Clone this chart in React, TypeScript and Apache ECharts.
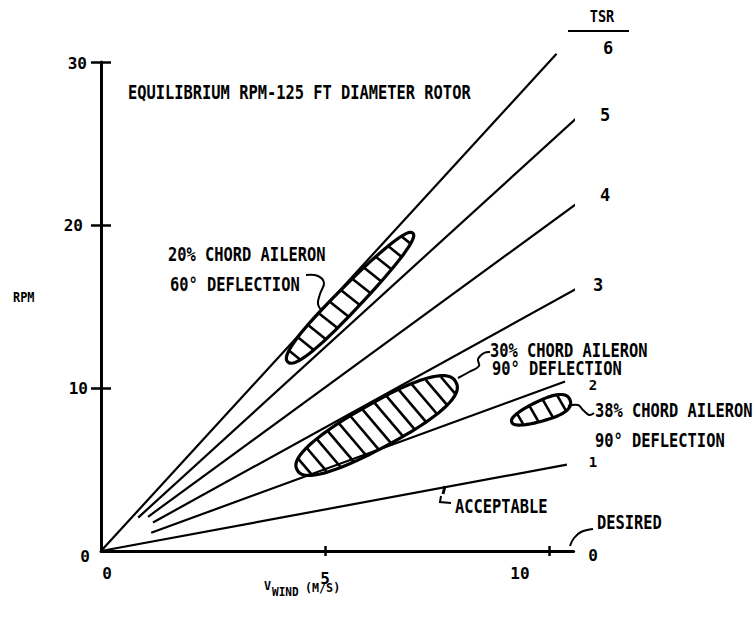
import React, { useEffect, useRef } from "react";
import * as echarts from "echarts";

// TSR lines (tip speed ratio), wind speed (m/s) vs rpm, start and end points
const tsrLabels = ["1", "2", "3", "4", "5", "6"];
const windStart = [0, 1.12, 1.16, 1.05, 0.83, 0];
const rpmStart = [0, 1.12, 1.75, 2.1, 2.05, 0];
const windEnd = [10.4, 10.36, 10.62, 11.16, 10.71, 10.17];
const rpmEnd = [5.3, 10.4, 16.1, 22.4, 26.8, 30.5];

// axis ticks
const xTickValues = [5, 10];
const xLabelValues = [0, 5, 10];
const yTickValues = [10, 20, 30];
const yLabelValues = [0, 10, 20, 30];

// equilibrium regions (aileron configurations): extreme points along the band
const regionNames = ["20% CHORD AILERON", "30% CHORD AILERON", "38% CHORD AILERON"];
const regionDeflection = ["60° DEFLECTION", "90° DEFLECTION", "90° DEFLECTION"];
const regionWindLow = [4.17, 4.38, 9.17];
const regionRpmLow = [11.6, 4.97, 7.91];
const regionWindHigh = [6.96, 7.92, 10.47];
const regionRpmHigh = [19.5, 10.37, 9.26];

// drawing styles of the regions
const regionHalfWidthPx = [12, 22, 10];
const regionHatchCount = [11, 13, 4];
const regionHatchSlant = [0.1, 0.2, 0.16];
const regionEgg = [-0.12, 0.05, 0.25];

const FONT = "'DejaVu Sans Mono', 'Liberation Mono', monospace";

function txt(text: string, x: number, y: number, size = 20, scaleX = 0.77, align = "left") {
  return {
    type: "text",
    x,
    y,
    scaleX,
    silent: true,
    style: {
      text,
      fontFamily: FONT,
      fontWeight: "bold",
      fontSize: size,
      fill: "#000",
      textAlign: align,
      textVerticalAlign: "middle",
      verticalAlign: "middle",
    },
  };
}

function pl(points: number[][], width = 2, smooth = 0.4) {
  return {
    type: "polyline",
    silent: true,
    shape: { points, smooth },
    style: { stroke: "#000", lineWidth: width, fill: "none" },
  };
}

export default function App() {
  const ref = useRef<HTMLDivElement>(null);

  useEffect(() => {
    if (!ref.current) return;
    const chart = echarts.init(ref.current, null, { renderer: "svg" });

    const lineSeries = tsrLabels.map((name, i) => ({
      type: "line",
      name: "TSR " + name,
      data: [
        [windStart[i], rpmStart[i]],
        [windEnd[i], rpmEnd[i]],
      ],
      symbol: "none",
      clip: false,
      lineStyle: { color: "#000", width: 2.2 },
      silent: true,
    }));

    const regionData = regionNames.map((n, i) => [
      regionWindLow[i],
      regionRpmLow[i],
      regionWindHigh[i],
      regionRpmHigh[i],
    ]);

    const renderRegion = (params: any, api: any) => {
      const i = params.dataIndex;
      const p1 = api.coord([api.value(0), api.value(1)]);
      const p2 = api.coord([api.value(2), api.value(3)]);
      const cx = (p1[0] + p2[0]) / 2;
      const cy = (p1[1] + p2[1]) / 2;
      const dx = p2[0] - p1[0];
      const dy = p2[1] - p1[1];
      const len = Math.hypot(dx, dy);
      const a = len / 2;
      const ux = dx / len;
      const uy = dy / len;
      const vx = -uy;
      const vy = ux;
      const b = regionHalfWidthPx[i];
      const n = 2.4;
      const egg = regionEgg[i];
      const toPx = (u: number, v: number) => [cx + u * ux + v * vx, cy + u * uy + v * vy];
      const pts: number[][] = [];
      const K = 90;
      for (let k = 0; k < K; k++) {
        const t = (2 * Math.PI * k) / K;
        const c = Math.cos(t);
        const s = Math.sin(t);
        const u = a * Math.sign(c) * Math.pow(Math.abs(c), 2 / n);
        const v = b * Math.sign(s) * Math.pow(Math.abs(s), 2 / n) * (1 + egg * (u / a));
        pts.push(toPx(u, v));
      }
      const children: any[] = [
        {
          type: "polygon",
          shape: { points: pts },
          style: { fill: "none", stroke: "#000", lineWidth: 3.2 },
        },
      ];
      const N = regionHatchCount[i];
      const sl = regionHatchSlant[i];
      for (let j = 0; j < N; j++) {
        const u = -a + (2 * a * (j + 0.6)) / (N + 0.2);
        const r = Math.abs(u / a);
        if (r >= 1) continue;
        const h = b * Math.pow(1 - Math.pow(r, n), 1 / n) * (1 + egg * (u / a)) * 0.97;
        const q1 = toPx(u - sl * h, -h);
        const q2 = toPx(u + sl * h, h);
        children.push({
          type: "line",
          shape: { x1: q1[0], y1: q1[1], x2: q2[0], y2: q2[1] },
          style: { stroke: "#000", lineWidth: 2.6 },
        });
      }
      return { type: "group", children };
    };

    const labelFont = { fontFamily: FONT, fontWeight: "bold", fontSize: 16, color: "#000" };

    const option: any = {
      animation: false,
      backgroundColor: "#fff",
      grid: { left: 101, right: 180.4, top: 62, bottom: 81, outerBoundsMode: "none", containLabel: false },
      xAxis: [
        {
          type: "value",
          min: 0,
          max: 10.55,
          interval: 5,
          position: "bottom",
          axisLine: { show: true, onZero: false, lineStyle: { color: "#000", width: 3 } },
          axisTick: { show: true, customValues: xTickValues, length: 5, lineStyle: { color: "#000", width: 2.5 } },
          axisLabel: {
            customValues: xLabelValues,
            margin: 14,
            formatter: (v: number) => `{x${v}|${v}}`,
            rich: {
              x0: { ...labelFont, padding: [0, 0, 0, 12] },
              x5: { ...labelFont, padding: [5, 0, 0, 0] },
              x10: { ...labelFont, padding: [0, 58, 0, 0] },
            },
          },
          splitLine: { show: false },
        },
        {
          type: "value",
          min: 0,
          max: 10.55,
          interval: 5,
          position: "bottom",
          axisLine: { show: false },
          axisTick: { show: true, inside: true, customValues: xTickValues, length: 5, lineStyle: { color: "#000", width: 2.5 } },
          axisLabel: { show: false },
          splitLine: { show: false },
        },
      ],
      yAxis: [
        {
          type: "value",
          min: 0,
          max: 30,
          interval: 10,
          position: "left",
          axisLine: { show: true, onZero: false, lineStyle: { color: "#000", width: 3 } },
          axisTick: { show: true, customValues: yTickValues, length: 10, lineStyle: { color: "#000", width: 2.5 } },
          axisLabel: {
            customValues: yLabelValues,
            margin: 11,
            formatter: (v: number) => `{y${v}|${v}}`,
            rich: {
              y0: { ...labelFont, padding: [10, 0, 0, 0] },
              y10: { ...labelFont, padding: [0, 2, 0, 0] },
              y20: { ...labelFont, padding: [0, 7, 0, 0] },
              y30: { ...labelFont, padding: [2, 3, 0, 0] },
            },
          },
          splitLine: { show: false },
        },
        {
          type: "value",
          min: 0,
          max: 30,
          interval: 10,
          position: "left",
          axisLine: { show: false },
          axisTick: { show: true, inside: true, customValues: yTickValues, length: 10, lineStyle: { color: "#000", width: 2.5 } },
          axisLabel: { show: false },
          splitLine: { show: false },
        },
      ],
      series: [
        ...lineSeries,
        {
          type: "custom",
          name: "regions",
          coordinateSystem: "cartesian2d",
          encode: { x: [0, 2], y: [1, 3] },
          data: regionData,
          renderItem: renderRegion,
          silent: true,
          clip: false,
        },
      ],
      graphic: [
        txt("EQUILIBRIUM RPM-125 FT DIAMETER ROTOR", 128, 92),
        txt("TSR", 602, 16, 16, 0.85, "center"),
        { type: "line", silent: true, shape: { x1: 568, y1: 31, x2: 629, y2: 31 }, style: { stroke: "#000", lineWidth: 2 } },
        txt(tsrLabels[5], 608, 48, 17, 1, "center"),
        txt(tsrLabels[4], 605, 115, 17, 1, "center"),
        txt(tsrLabels[3], 605, 195, 17, 1, "center"),
        txt(tsrLabels[2], 598, 285, 17, 1, "center"),
        txt(tsrLabels[1], 593, 385, 14, 1, "center"),
        txt(tsrLabels[0], 593, 462, 14, 1, "center"),
        txt("0", 593, 555, 16, 1, "center"),
        txt(regionNames[0], 168, 254),
        txt(regionDeflection[0], 170, 284),
        txt(regionNames[1], 490, 350),
        txt(regionDeflection[1], 492, 368),
        txt(regionNames[2], 595, 410),
        txt(regionDeflection[2], 595, 440),
        txt("ACCEPTABLE", 455, 506),
        txt("DESIRED", 597, 522),
        txt("RPM", 13, 297, 14, 0.85),
        txt("V", 264, 586, 13, 0.9),
        txt("WIND", 272, 592, 13, 0.85),
        txt("(M/S)", 305, 588, 13, 0.9),
        pl([[306, 275], [318, 276], [324, 283], [320, 294], [318, 304], [322, 311]]),
        pl([[458, 378], [469, 372], [479, 366], [478, 359], [484, 353], [490, 352]]),
        pl([[568, 406], [578, 405], [583, 410], [589, 415], [594, 413]]),
        pl([[445, 486], [443, 494]], 3, 0),
        pl([[441, 496], [440, 502], [451, 503]], 2, 0),
        pl([[593, 529], [581, 532], [574, 538], [570, 546]]),
      ],
    };

    chart.setOption(option);
    return () => chart.dispose();
  }, []);

  return (
    <div
      ref={ref}
      style={{ position: "absolute", left: 0, top: 0, width: 754, height: 632, background: "#fff" }}
    />
  );
}
